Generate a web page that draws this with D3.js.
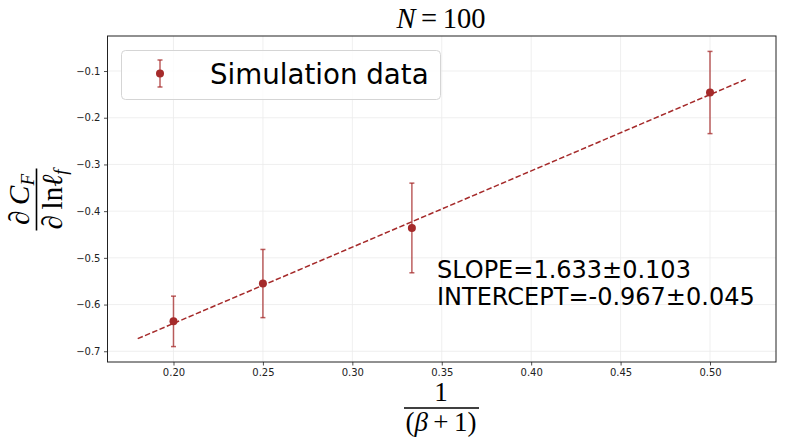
<!DOCTYPE html>
<html><head><meta charset="utf-8">
<script src="https://cdn.jsdelivr.net/npm/d3@7"></script>
<style>body{margin:0;background:#fff}svg{display:block}</style>
</head><body>
<script>
const xVals = [0.2, 0.25, 0.3333, 0.5];
const yVals = [-0.636, -0.555, -0.436, -0.146];
const yErr = [0.054, 0.073, 0.096, 0.088];
const fitX = [0.18, 0.52];
const slope = 1.633, intercept = -0.967;
const xTicks = [0.20, 0.25, 0.30, 0.35, 0.40, 0.45, 0.50];
const yTicks = [-0.7, -0.6, -0.5, -0.4, -0.3, -0.2, -0.1];
const legendLabel = "Simulation data";
const annot = ["SLOPE=1.633\u00B10.103", "INTERCEPT=-0.967\u00B10.045"];

const W = 786, H = 448;
const m = {left: 107.5, right: 776, top: 36, bottom: 362};
const svg = d3.select("body").append("svg").attr("width", W).attr("height", H);
const x = d3.scaleLinear().domain([0.1631, 0.5369]).range([m.left, m.right]);
const y = d3.scaleLinear().domain([-0.723, -0.025]).range([m.bottom, m.top]);
const col = "#a52a2a";
const mathFont = "Liberation Serif";

// grid
svg.append("g").selectAll("line").data(xTicks).join("line")
  .attr("x1", d => x(d)).attr("x2", d => x(d)).attr("y1", m.top).attr("y2", m.bottom)
  .attr("stroke", "#ebebeb").attr("stroke-width", 0.8);
svg.append("g").selectAll("line").data(yTicks).join("line")
  .attr("y1", d => y(d)).attr("y2", d => y(d)).attr("x1", m.left).attr("x2", m.right)
  .attr("stroke", "#ebebeb").attr("stroke-width", 0.8);

// axes
const fmtX = d3.format(".2f");
const fmtY = d => (d < 0 ? "\u2212" : "") + Math.abs(d).toFixed(1);
const xa = svg.append("g").attr("transform", `translate(0,${m.bottom})`)
  .call(d3.axisBottom(x).tickValues(xTicks).tickFormat(fmtX).tickSize(3.5).tickPadding(3.5));
const ya = svg.append("g").attr("transform", `translate(${m.left},0)`)
  .call(d3.axisLeft(y).tickValues(yTicks).tickFormat(fmtY).tickSize(3.5).tickPadding(3.5));
[xa, ya].forEach(a => {
  a.select(".domain").remove();
  a.selectAll("text").attr("font-family", "DejaVu Sans").attr("font-size", 10).attr("fill", "#222");
  a.selectAll("line").attr("stroke", "#222").attr("stroke-width", 0.8);
});
svg.append("rect").attr("x", m.left).attr("y", m.top).attr("width", m.right - m.left)
  .attr("height", m.bottom - m.top).attr("fill", "none").attr("stroke", "#222").attr("stroke-width", 1);

// fit line
svg.append("line").attr("x1", x(fitX[0])).attr("y1", y(slope * fitX[0] + intercept))
  .attr("x2", x(fitX[1])).attr("y2", y(slope * fitX[1] + intercept))
  .attr("stroke", col).attr("stroke-width", 1.5).attr("stroke-dasharray", "5.5,2.4");

// error bars
const eb = svg.append("g");
xVals.forEach((xv, i) => {
  const g = eb.append("g").attr("stroke", col).attr("stroke-opacity", 0.75).attr("stroke-width", 1.5);
  g.append("line").attr("x1", x(xv)).attr("x2", x(xv)).attr("y1", y(yVals[i] - yErr[i])).attr("y2", y(yVals[i] + yErr[i]));
  [yVals[i] - yErr[i], yVals[i] + yErr[i]].forEach(v =>
    g.append("line").attr("x1", x(xv) - 2.5).attr("x2", x(xv) + 2.5).attr("y1", y(v)).attr("y2", y(v)));
});
svg.append("g").selectAll("circle").data(xVals).join("circle")
  .attr("cx", d => x(d)).attr("cy", (d, i) => y(yVals[i])).attr("r", 4).attr("fill", col);

// legend
svg.append("rect").attr("x", 121.5).attr("y", 50.5).attr("width", 319).attr("height", 49).attr("rx", 4)
  .attr("fill", "#fff").attr("fill-opacity", 0.8).attr("stroke", "#d5d5d5").attr("stroke-width", 1);
const lg = svg.append("g").attr("stroke", col).attr("stroke-opacity", 0.75).attr("stroke-width", 1.5);
lg.append("line").attr("x1", 160).attr("x2", 160).attr("y1", 60).attr("y2", 87);
lg.append("line").attr("x1", 157.5).attr("x2", 162.5).attr("y1", 60).attr("y2", 60);
lg.append("line").attr("x1", 157.5).attr("x2", 162.5).attr("y1", 87).attr("y2", 87);
svg.append("circle").attr("cx", 160).attr("cy", 73.5).attr("r", 4).attr("fill", col);
svg.append("text").attr("x", 210).attr("y", 83.5).attr("font-family", "DejaVu Sans").attr("font-size", 27.7)
  .attr("fill", "#000").text(legendLabel);

// annotations
annot.forEach((t, i) => svg.append("text").attr("x", 437).attr("y", 277.5 + i * 27)
  .attr("font-family", "DejaVu Sans").attr("font-size", 24).attr("fill", "#000").text(t));

// title
const tt = svg.append("text").attr("x", 441).attr("y", 28).attr("text-anchor", "middle")
  .attr("font-family", mathFont).attr("font-size", 28.5);
tt.append("tspan").attr("font-style", "italic").text("N");
tt.append("tspan").text("\u2009=\u2009100");

// x label: 1/(β+1)
const xl = svg.append("g").attr("font-family", mathFont).attr("fill", "#000");
xl.append("text").attr("x", 441).attr("y", 400.5).attr("text-anchor", "middle").attr("font-size", 27).text("1");
xl.append("line").attr("x1", 404).attr("x2", 479).attr("y1", 408).attr("y2", 408).attr("stroke", "#000").attr("stroke-width", 1.6);
const den = xl.append("text").attr("x", 441).attr("y", 431).attr("text-anchor", "middle").attr("font-size", 27);
den.append("tspan").text("(");
den.append("tspan").attr("font-style", "italic").text("\u03B2");
den.append("tspan").text("\u2009+\u20091)");

// y label: ∂C_F / ∂ ln ℓ_f, rotated
const yl = svg.append("g").attr("transform", "translate(36.5,199.5) rotate(-90)").attr("font-family", mathFont).attr("fill", "#000");
const num = yl.append("text").attr("x", 0).attr("y", -8).attr("text-anchor", "middle").attr("font-size", 29);
num.append("tspan").attr("font-style", "italic").text("\u2202\u2009C");
num.append("tspan").attr("font-style", "italic").attr("font-size", 19).attr("dy", 5).text("F");
yl.append("line").attr("x1", -31).attr("x2", 31).attr("y1", 0).attr("y2", 0).attr("stroke", "#000").attr("stroke-width", 1.6);
const dn = yl.append("text").attr("x", 0).attr("y", 25).attr("text-anchor", "middle").attr("font-size", 29);
dn.append("tspan").attr("font-style", "italic").text("\u2202\u2009");
dn.append("tspan").text("ln");
dn.append("tspan").attr("font-style", "italic").text("\u2113");
dn.append("tspan").attr("font-style", "italic").attr("font-size", 19).attr("dy", 5).text("f");
</script>
</body></html>
